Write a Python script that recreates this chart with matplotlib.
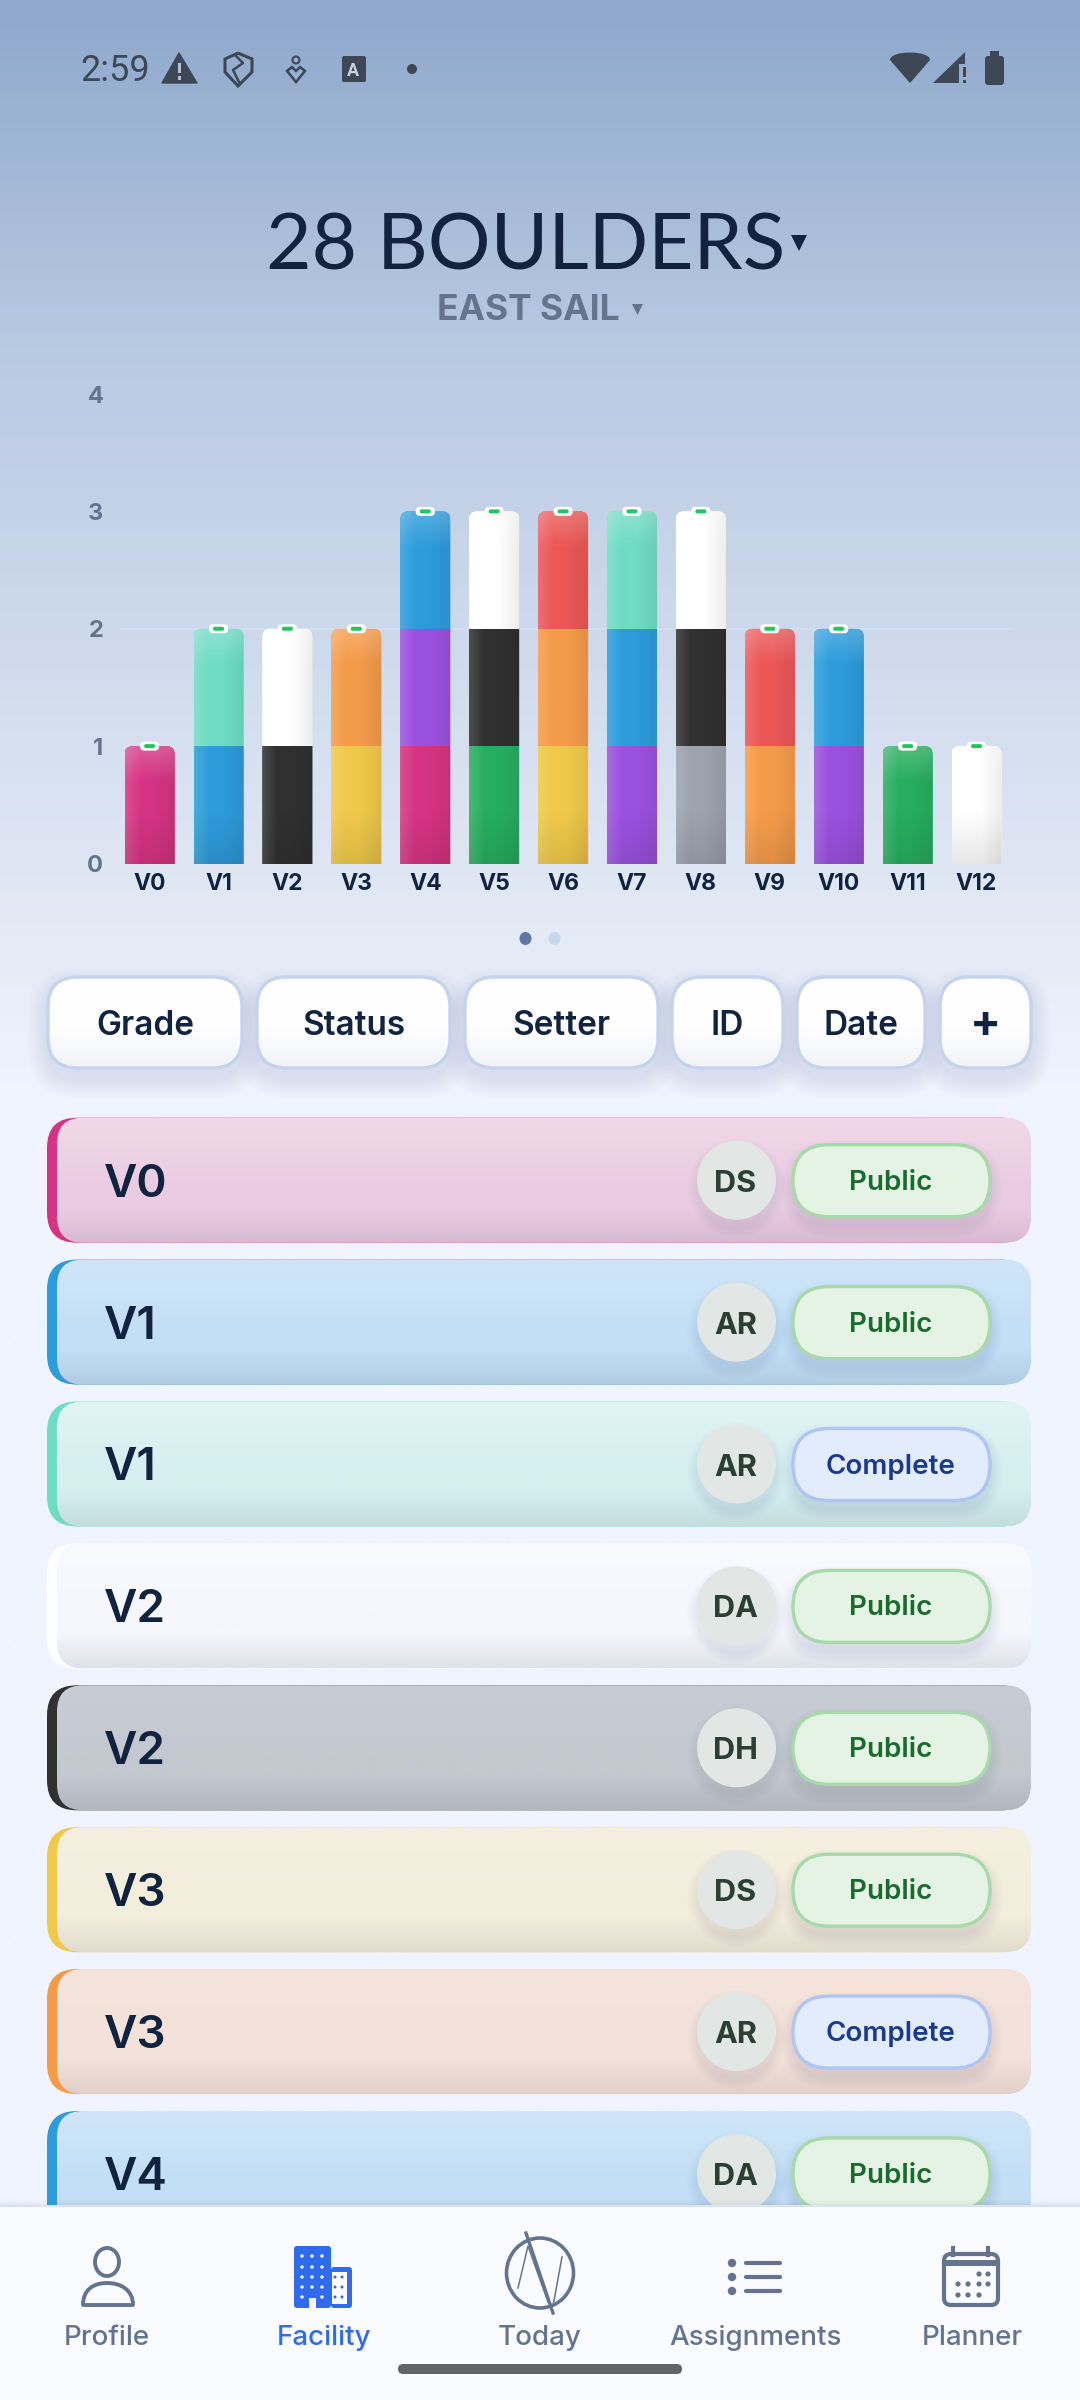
import matplotlib
matplotlib.use("Agg")

import matplotlib.pyplot as plt
import numpy as np
from matplotlib.patches import Circle, Ellipse, FancyBboxPatch, Polygon, Rectangle, PathPatch
from matplotlib.path import Path
from matplotlib.transforms import IdentityTransform

# chart data
grades = ["V0", "V1", "V2", "V3", "V4", "V5", "V6", "V7", "V8", "V9", "V10", "V11", "V12"]
layer1 = [1, 1, 1, 1, 1, 1, 1, 1, 1, 1, 1, 1, 1]
layer2 = [0, 1, 1, 1, 1, 1, 1, 1, 1, 1, 1, 0, 0]
layer3 = [0, 0, 0, 0, 1, 1, 1, 1, 1, 0, 0, 0, 0]
colors1 = ["pink", "blue", "dark", "yellow", "pink", "green", "yellow", "purple", "gray", "orange", "purple", "green", "white"]
colors2 = [None, "teal", "white", "orange", "purple", "dark", "orange", "blue", "dark", "red", "blue", None, None]
colors3 = [None, None, None, None, "blue", "white", "red", "teal", "white", None, None, None, None]
y_ticks = [0, 1, 2, 3, 4]

# list data
card_grades = ["V0", "V1", "V1", "V2", "V2", "V3", "V3", "V4"]
card_colors = ["pink", "blue", "teal", "white", "dark", "yellow", "orange", "blue"]
card_setters = ["DS", "AR", "AR", "DA", "DH", "DS", "AR", "DA"]
card_status = ["Public", "Public", "Complete", "Public", "Public", "Public", "Complete", "Public"]

filter_labels = ["Grade", "Status", "Setter", "ID", "Date", "+"]
filter_left = [48, 257, 465, 672, 797, 940]
filter_right = [242, 450, 658, 783, 925, 1031]

nav_labels = ["Profile", "Facility", "Today", "Assignments", "Planner"]
nav_x = [107, 324, 540, 755, 972]

palette = {
    "pink": "#D63384", "blue": "#2D9CDB", "dark": "#303030", "yellow": "#F0C94A",
    "orange": "#F49B4A", "purple": "#9B51E0", "green": "#27AE60", "gray": "#9CA3AF",
    "red": "#EB5757", "teal": "#6FDCC4", "white": "#FFFFFF",
}
# top, middle, bottom colours of the list cards
card_tints = {
    "pink": ((241, 216, 232), (234, 204, 226), (216, 185, 210)),
    "blue": ((208, 230, 248), (195, 223, 245), (178, 205, 227)),
    "teal": ((225, 244, 244), (213, 239, 240), (195, 222, 222)),
    "white": ((248, 250, 254), (245, 247, 252), (222, 226, 234)),
    "dark": ((200, 204, 212), (196, 200, 208), (178, 182, 190)),
    "yellow": ((245, 240, 224), (243, 237, 220), (225, 220, 205)),
    "orange": ((245, 228, 220), (243, 226, 217), (225, 208, 200)),
}
pill_styles = {
    "Public": ("#E5F3E5", "#A9D8AA", "#1B6A30"),
    "Complete": ("#E3ECFD", "#AFC6F2", "#1B3A8C"),
}

NAVY = "#12233F"
SLATE = "#64748F"
STATUS = "#3D4756"
UI_FONT = "Inter"

fig = plt.figure(figsize=(10.8, 24), dpi=100)
ui = fig.add_axes([0, 0, 1, 1], zorder=0)
ui.set_xlim(0, 1080)
ui.set_ylim(2400, 0)
ui.axis("off")


def rgb(c):
    return np.array(matplotlib.colors.to_rgb(c))


def rounded(x0, y0, x1, y1, r, axes=None, **kw):
    p = FancyBboxPatch((x0, y0), x1 - x0, y1 - y0, boxstyle=f"round,pad=0,rounding_size={r}", **kw)
    (axes or ui).add_patch(p)
    return p


def shadow(x0, y0, x1, y1, r, drop, spread, alpha, z, color="#3A4F78"):
    # soft shadow, a stack of faint growing boxes
    for i in range(spread, 0, -2):
        rounded(x0 - i, y0 - i + drop, x1 + i, y1 + i + drop, r + i, fc=color, ec="none", alpha=alpha, zorder=z)


def vgrad(x0, y0, x1, y1, stops, clip, z):
    pos = [s[0] for s in stops]
    n = 128
    t = np.linspace(0, 1, n)
    img = np.zeros((n, 1, 3))
    for k in range(3):
        img[:, 0, k] = np.interp(t, pos, [s[1][k] for s in stops]) / 255
    im = ui.imshow(img, extent=(x0, x1, y1, y0), aspect="auto", zorder=z, interpolation="bilinear")
    im.set_clip_path(clip)
    return im


# page background
bg_pos = [0, 340, 960, 1100, 2400]
bg_col = [(143, 168, 204), (184, 201, 226), (230, 236, 247), (240, 244, 254), (240, 244, 254)]
vgrad(0, 0, 1080, 2400, [(p / 2400, c) for p, c in zip(bg_pos, bg_col)], ui.patch, 0)
ui.set_xlim(0, 1080)
ui.set_ylim(2400, 0)

# status bar
ui.text(80, 81, "2:59", fontsize=26, family="Roboto", color=STATUS, va="baseline", zorder=5)
ui.add_patch(Polygon([(179, 53), (162, 83), (197, 83)], closed=True, fc=STATUS, ec=STATUS, lw=1, joinstyle="round", zorder=5))
ui.add_patch(Rectangle((178, 63), 3, 10, fc="#AFC0DA", ec="none", zorder=6))
ui.add_patch(Rectangle((178, 76), 3, 4, fc="#AFC0DA", ec="none", zorder=6))
shield = Path([(238, 53), (252, 59), (252, 72), (238, 86), (225, 72), (225, 59), (238, 53)])
ui.add_patch(PathPatch(shield, fc="none", ec=STATUS, lw=2.2, zorder=5))
ui.plot([236, 243, 233, 240], [56, 63, 70, 84], color=STATUS, lw=1.8, zorder=5)
ui.add_patch(Circle((296, 60), 3.5, fc="none", ec=STATUS, lw=1.5, zorder=5))
ui.add_patch(Polygon([(287, 71), (292, 67), (296, 71), (300, 67), (305, 71), (296, 82)], closed=True, fc="none", ec=STATUS, lw=1.8, zorder=5))
rounded(342, 56, 366, 82, 2, fc=STATUS, ec="none", zorder=5)
ui.text(353, 76, "A", fontsize=13, family="Roboto", weight="bold", color="#C4D3E8", ha="center", va="baseline", zorder=6)
ui.add_patch(Circle((412, 69), 5, fc=STATUS, ec="none", zorder=5))
wifi = Path([(910, 83), (890, 60), (890, 50), (930, 50), (930, 60), (910, 83)],
            [Path.MOVETO, Path.LINETO, Path.CURVE4, Path.CURVE4, Path.CURVE4, Path.CLOSEPOLY])
ui.add_patch(PathPatch(wifi, fc=STATUS, ec="none", zorder=5))
ui.add_patch(Polygon([(933, 83), (965, 52), (965, 64), (959, 64), (959, 83)], closed=True, fc=STATUS, ec="none", zorder=5))
ui.add_patch(Rectangle((963, 67), 2.5, 10, fc=STATUS, ec="none", zorder=5))
ui.add_patch(Rectangle((963, 80), 2.5, 3, fc=STATUS, ec="none", zorder=5))
rounded(985, 56, 1004, 85, 3, fc=STATUS, ec="none", zorder=5)
ui.add_patch(Rectangle((990, 51), 9, 6, fc=STATUS, ec="none", zorder=5))

# header
ui.text(266, 269, "28 BOULDERS", fontsize=56.5, family="Lato", weight="normal", color=NAVY, va="baseline", zorder=5)
ui.add_patch(Polygon([(791, 235), (807, 235), (799, 251)], closed=True, fc=NAVY, ec="none", zorder=5))
ui.text(437, 320, "EAST SAIL", fontsize=25.5, family=UI_FONT, weight="bold", color=SLATE, va="baseline", zorder=5)
ui.add_patch(Polygon([(632, 304), (643, 304), (637.5, 315)], closed=True, fc=SLATE, ec="none", zorder=5))

# stacked bar chart
ax = fig.add_axes([120 / 1080, 1 - 863.5 / 2400, (1011 - 120) / 1080, (863.5 - 394) / 2400], zorder=1)
ax.patch.set_alpha(0)
for s in ax.spines.values():
    s.set_visible(False)
x = np.arange(len(grades))
bar_w = 0.726
bottom = np.zeros(len(grades))
stack_tops = np.array(layer1) + np.array(layer2) + np.array(layer3)
ax.set_xlim(-0.43, 12.5)
ax.set_ylim(0, 4)
ax.set_yticks(y_ticks)
ax.set_yticklabels([str(v) for v in y_ticks], fontsize=17, family=UI_FONT, weight="bold", color=SLATE)
ax.set_xticks(x)
ax.set_xticklabels(grades, fontsize=16.5, family=UI_FONT, weight="bold", color=NAVY)
ax.tick_params(axis="y", length=0, pad=12)
ax.tick_params(axis="x", length=0, pad=7)
ax.grid(axis="y", color="#DCE5F5", lw=1.5, alpha=0.35, zorder=0)
ax.set_axisbelow(True)
# only the lower grid lines show in the app
for line in ax.yaxis.get_gridlines()[3:]:
    line.set_visible(False)

to_px = ax.transData
for layer, cols in [(layer1, colors1), (layer2, colors2), (layer3, colors3)]:
    bars = ax.bar(x, layer, bar_w, bottom=bottom, color=[palette[c] if c else "none" for c in cols], zorder=2)
    for i, b in enumerate(bars):
        if layer[i] == 0:
            continue
        x0, y0 = b.get_x(), b.get_y()
        x1, y1 = x0 + b.get_width(), y0 + b.get_height()
        is_top = y1 == stack_tops[i]
        is_bottom = y0 == 0
        # shading on top of the bar colour: lighter left edge, darker right edge
        base = rgb(palette[cols[i]])
        h, w = 118, 50
        tx = np.linspace(0, 1, w)[None, :, None]
        ty = np.linspace(0, 1, h)[:, None, None]
        img = np.ones((h, w, 3)) * base
        left = np.clip((0.3 - tx) / 0.3, 0, 1) * 0.14
        img = img + (1 - img) * left
        right = np.clip((tx - 0.55) / 0.45, 0, 1) * 0.07
        img = img * (1 - right)
        if is_top:
            img = img + (1 - img) * np.clip((0.3 - ty) / 0.3, 0, 1) * 0.2
        if is_bottom:
            img = img * (1 - np.clip((ty - 0.55) / 0.45, 0, 1) * 0.09)
        im = ax.imshow(img, extent=(x0, x1, y0, y1), aspect="auto", origin="upper", zorder=3, interpolation="bilinear")
        # rounded top of the whole stack, clip in screen pixels
        (px0, py0) = to_px.transform((x0, 0))
        (px1, py1) = to_px.transform((x1, stack_tops[i]))
        clip = FancyBboxPatch((px0, py0 - 20), px1 - px0, py1 - py0 + 20, boxstyle="round,pad=0,rounding_size=8", transform=IdentityTransform())
        im.set_clip_path(clip)
        b.set_clip_path(clip)
    bottom = bottom + np.array(layer)
ax.set_xlim(-0.43, 12.5)
ax.set_ylim(0, 4)

# small handle on top of each stack, over the chart axes
over = fig.add_axes([0, 0, 1, 1], zorder=2)
over.set_xlim(0, 1080)
over.set_ylim(2400, 0)
over.axis("off")
for i in range(len(grades)):
    px, py = to_px.transform((x[i], stack_tops[i]))
    ypx = 2400 - py
    rounded(px - 9.5, ypx - 4.5, px + 9.5, ypx + 4.5, 4, axes=over, fc="white", ec="none", zorder=6)
    rounded(px - 5.5, ypx - 2, px + 5.5, ypx + 2, 1.8, axes=over, fc="#22C55E", ec="none", zorder=7)

# pager dots
ui.add_patch(Ellipse((525.5, 938.5), 12, 13, fc="#5F78A3", ec="none", zorder=5))
ui.add_patch(Ellipse((554.5, 938.5), 12, 13, fc="#C9D7EE", ec="none", zorder=5))

# filter buttons
for lab, l, r in zip(filter_labels, filter_left, filter_right):
    shadow(l, 977, r, 1068, 30, 10, 20, 0.009, 2)
    face = rounded(l, 977, r, 1068, 30, fc="none", ec="#C6D4EB", lw=2.4, zorder=4)
    vgrad(l, 977, r, 1068, [(0, (255, 255, 255)), (0.55, (254, 254, 255)), (1, (242, 244, 249))], face, 3)
    if lab == "+":
        ui.text((l + r) / 2, 1037, lab, fontsize=33, family=UI_FONT, weight="bold", color=NAVY, ha="center", va="baseline", zorder=5)
    else:
        ui.text((l + r) / 2, 1035, lab, fontsize=24, family=UI_FONT, weight="semibold", color=NAVY, ha="center", va="baseline", zorder=5)

# boulder cards
card_pitch = 141.9
card_h = 125
for i, (g, c, who, st) in enumerate(zip(card_grades, card_colors, card_setters, card_status)):
    top = 1117.7 + i * card_pitch
    bot = top + card_h
    rounded(47, top, 1031, bot, 30, fc=palette[c], ec="none", zorder=1)
    t = card_tints[c]
    body = rounded(57, top, 1031, bot, 26, fc="none", ec="none", zorder=1.1)
    vgrad(57, top, 1031, bot, [(0, t[0]), (0.55, t[1]), (0.72, t[1]), (1, t[2])], body, 1.2)
    ui.text(104, top + 79, g, fontsize=33, family=UI_FONT, weight="semibold", color=NAVY, va="baseline", zorder=3)

    cy = top + 62.5
    for k in range(10, 0, -2):
        ui.add_patch(Circle((736.5, cy + 8), 39 + k, fc="#3A4F78", ec="none", alpha=0.014, zorder=1.5))
    ui.add_patch(Circle((736.5, cy), 39.5, fc="#E2E6E4", ec="none", zorder=2))
    ui.text(735.5, top + 74, who, fontsize=22, family=UI_FONT, weight="bold", color="#2B3F33", ha="center", va="baseline", zorder=3)

    fill, edge, txt = pill_styles[st]
    shadow(793, top + 27, 990, top + 99, 36, 8, 12, 0.016, 1.5)
    rounded(793, top + 27, 990, top + 99, 36, fc=fill, ec=edge, lw=2.4, zorder=2)
    ui.text(891, top + 72, st, fontsize=20, family=UI_FONT, weight="semibold", color=txt, ha="center", va="baseline", zorder=3)

# bottom navigation
ui.add_patch(Rectangle((0, 2206), 1080, 194, fc="#FAFBFF", ec="none", zorder=10))
ui.plot([0, 1080], [2206, 2206], color="#DCE3F0", lw=1.5, zorder=10.5)
for k in range(6):
    ui.add_patch(Rectangle((0, 2206 - k - 1), 1080, k + 1, fc="#3A4F78", ec="none", alpha=0.012, zorder=9))
for lab, nx in zip(nav_labels, nav_x):
    col = "#2F6BED" if lab == "Facility" else SLATE
    ui.text(nx, 2345, lab, fontsize=20, family=UI_FONT, weight="medium", color=col, ha="center", va="baseline", zorder=11)
rounded(398, 2364, 682, 2374, 5, fc="#646568", ec="none", zorder=11)

# nav icons
lw = 2.8
ui.add_patch(Ellipse((107, 2262), 24, 28, fc="none", ec=SLATE, lw=lw, zorder=11))
dome = Path([(83, 2305), (83, 2290), (93, 2283), (107, 2283), (121, 2283), (133, 2290), (133, 2305), (83, 2305)],
            [Path.MOVETO, Path.CURVE4, Path.CURVE4, Path.CURVE4, Path.CURVE4, Path.CURVE4, Path.CURVE4, Path.CLOSEPOLY])
ui.add_patch(PathPatch(dome, fc="none", ec=SLATE, lw=lw, joinstyle="round", zorder=11))

BLUE = "#2F6BED"
rounded(294, 2246, 331, 2308, 3, fc=BLUE, ec="none", zorder=11)
rounded(331, 2267, 352, 2308, 3, fc=BLUE, ec="none", zorder=11)
ui.add_patch(Rectangle((332, 2272), 15, 32, fc="#FAFBFF", ec="none", zorder=11.2))
ui.add_patch(Rectangle((309, 2298), 7, 10, fc="#FAFBFF", ec="none", zorder=11.2))
for wy in (2256, 2267, 2277, 2287, 2297):
    for wx in (302, 312, 322):
        if wy == 2297 and wx == 312:
            continue
        ui.add_patch(Circle((wx, wy), 1.7, fc="#FAFBFF", ec="none", zorder=11.3))
for wy in (2277, 2287, 2297):
    for wx in (335, 342):
        ui.add_patch(Circle((wx, wy), 1.5, fc=BLUE, ec="none", zorder=11.3))

ui.add_patch(Ellipse((540, 2273), 67, 70, fc="none", ec=SLATE, lw=2.6, zorder=11))
ui.plot([526, 553], [2233, 2313], color=SLATE, lw=2.4, zorder=11)
ui.plot([518, 528, 548], [2288, 2246, 2302], color=SLATE, lw=1.1, zorder=11)
ui.plot([553, 562], [2306, 2257], color=SLATE, lw=1.1, zorder=11)

for ly in (2263, 2277, 2291):
    ui.add_patch(Circle((732, ly), 4.2, fc=SLATE, ec="none", zorder=11))
    ui.plot([746, 780], [ly, ly], color=SLATE, lw=3, solid_capstyle="round", zorder=11)

rounded(944, 2254, 998, 2305, 7, fc="none", ec=SLATE, lw=3, zorder=11)
ui.add_patch(Rectangle((944, 2260), 54, 6, fc=SLATE, ec="none", zorder=11))
ui.plot([953, 953], [2248, 2255], color=SLATE, lw=3, zorder=11)
ui.plot([988, 988], [2248, 2255], color=SLATE, lw=3, zorder=11)
for dy, dxs in [(2274, (979, 988)), (2284, (958, 968, 979, 988)), (2295, (958, 968, 979))]:
    for dx in dxs:
        ui.add_patch(Circle((dx, dy), 2.6, fc=SLATE, ec="none", zorder=11))

plt.savefig("out.png", dpi=100)
plt.close()
